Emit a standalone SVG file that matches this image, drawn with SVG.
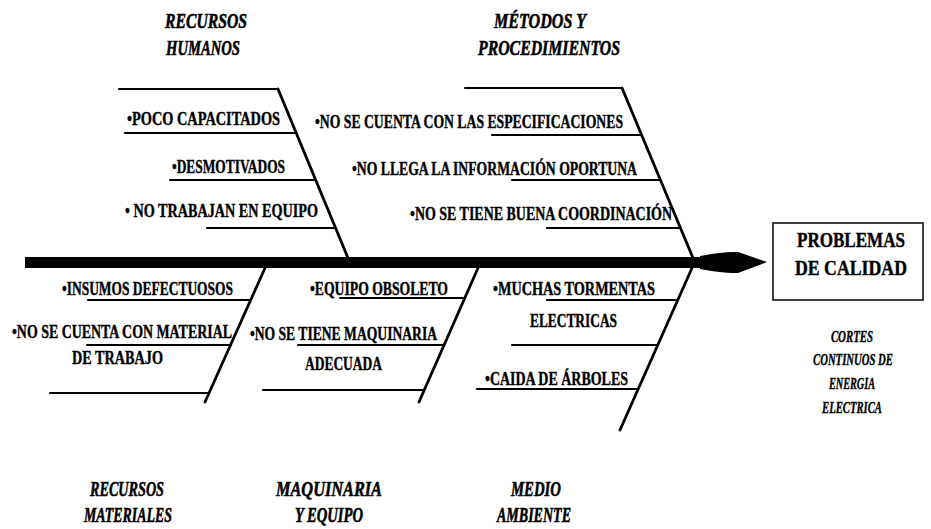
<svg xmlns="http://www.w3.org/2000/svg" width="931" height="529" viewBox="0 0 931 529">
  <style>
    .ln { stroke: #000; stroke-width: 2.2; fill: none; stroke-linecap: round; }
    .dg { stroke: #000; stroke-width: 2.8; fill: none; stroke-linecap: round; }
    .t { font-family: "Liberation Serif", "Times New Roman", serif; font-weight: bold; font-size: 19px; fill: #000; stroke: #000; stroke-width: 0.4; }
    .h { font-family: "Liberation Serif", "Times New Roman", serif; font-weight: bold; font-style: italic; font-size: 22px; fill: #000; stroke: #000; stroke-width: 0.6; }
    .s { font-family: "Liberation Serif", "Times New Roman", serif; font-weight: bold; font-style: italic; font-size: 17px; fill: #000; stroke: #000; stroke-width: 0.4; text-anchor: middle; }
    .b { font-family: "Liberation Serif", "Times New Roman", serif; font-weight: bold; font-size: 20px; fill: #000; stroke: #000; stroke-width: 0.4; }
  </style>
  <rect width="931" height="529" fill="#fff"/>

  <!-- spine, arrow head and the six bones -->
  <g id="connectors">
    <rect x="25" y="257" width="682" height="11" fill="#000"/>
    <path d="M700 256 C712 254 722 252 738 252 L767 262 L738 273 C722 273 712 271 700 269 Z" fill="#000"/>

    <!-- top-left bone -->
    <path class="ln" d="M119 89 L278 89"/>
    <path class="dg" d="M278 89 L348 258"/>
    <path class="ln" d="M125 133 L296 133"/>
    <path class="ln" d="M170 180 L315 180"/>
    <path class="ln" d="M207 228 L335 228"/>

    <!-- top-right bone -->
    <path class="ln" d="M465 88 L622 88"/>
    <path class="dg" d="M622 88 L693 258"/>
    <path class="ln" d="M492 135 L641 135"/>
    <path class="ln" d="M512 180 L660 180"/>
    <path class="ln" d="M547 228 L680 228"/>

    <!-- bottom-left bone -->
    <path class="dg" d="M265 268 L205 402"/>
    <path class="ln" d="M88 300 L251 300"/>
    <path class="ln" d="M87 345 L231 345"/>
    <path class="ln" d="M50 393 L209 393"/>

    <!-- bottom-middle bone -->
    <path class="dg" d="M478 268 L419 402"/>
    <path class="ln" d="M340 298 L465 298"/>
    <path class="ln" d="M298 345 L444 345"/>
    <path class="ln" d="M263 390 L424 390"/>

    <!-- bottom-right bone -->
    <path class="dg" d="M692 268 L620 430"/>
    <path class="ln" d="M547 300 L678 300"/>
    <path class="ln" d="M512 345 L658 345"/>
    <path class="ln" d="M477 389 L638 389"/>
  </g>

  <g id="recursos-humanos">
    <text class="h" x="165" y="28" textLength="82" lengthAdjust="spacingAndGlyphs">RECURSOS</text>
    <text class="h" x="166" y="55" textLength="74" lengthAdjust="spacingAndGlyphs">HUMANOS</text>
    <text class="t" x="127" y="125" textLength="153" lengthAdjust="spacingAndGlyphs">•POCO CAPACITADOS</text>
    <text class="t" x="172" y="173" textLength="113" lengthAdjust="spacingAndGlyphs">•DESMOTIVADOS</text>
    <text class="t" x="125" y="217" textLength="193" lengthAdjust="spacingAndGlyphs">• NO TRABAJAN EN EQUIPO</text>
  </g>

  <g id="metodos">
    <text class="h" x="494" y="28" textLength="92" lengthAdjust="spacingAndGlyphs">MÉTODOS Y</text>
    <text class="h" x="478" y="55" textLength="142" lengthAdjust="spacingAndGlyphs">PROCEDIMIENTOS</text>
    <text class="t" x="315" y="128" textLength="308" lengthAdjust="spacingAndGlyphs">•NO SE CUENTA CON LAS ESPECIFICACIONES</text>
    <text class="t" x="352" y="175" textLength="285" lengthAdjust="spacingAndGlyphs">•NO LLEGA LA INFORMACIÓN OPORTUNA</text>
    <text class="t" x="410" y="220" textLength="262" lengthAdjust="spacingAndGlyphs">•NO SE TIENE BUENA COORDINACIÓN</text>
  </g>

  <g id="recursos-materiales">
    <text class="t" x="62" y="295" textLength="171" lengthAdjust="spacingAndGlyphs">•INSUMOS DEFECTUOSOS</text>
    <text class="t" transform="translate(12 338) scale(0.78 1)" textLength="282" lengthAdjust="spacingAndGlyphs">•NO SE CUENTA CON MATERIAL</text>
    <text class="t" x="72" y="364" textLength="91" lengthAdjust="spacingAndGlyphs">DE TRABAJO</text>
    <text class="h" x="90" y="496" textLength="74" lengthAdjust="spacingAndGlyphs">RECURSOS</text>
    <text class="h" x="84" y="522" textLength="88" lengthAdjust="spacingAndGlyphs">MATERIALES</text>
  </g>

  <g id="maquinaria">
    <text class="t" x="310" y="295" textLength="138" lengthAdjust="spacingAndGlyphs">•EQUIPO OBSOLETO</text>
    <text class="t" x="250" y="340" textLength="187" lengthAdjust="spacingAndGlyphs">•NO SE TIENE MAQUINARIA</text>
    <text class="t" x="305" y="370" textLength="77" lengthAdjust="spacingAndGlyphs">ADECUADA</text>
    <text class="h" x="276" y="496" textLength="106" lengthAdjust="spacingAndGlyphs">MAQUINARIA</text>
    <text class="h" x="295" y="522" textLength="68" lengthAdjust="spacingAndGlyphs">Y EQUIPO</text>
  </g>

  <g id="medio-ambiente">
    <text class="t" x="493" y="295" textLength="162" lengthAdjust="spacingAndGlyphs">•MUCHAS TORMENTAS</text>
    <text class="t" x="530" y="327" textLength="87" lengthAdjust="spacingAndGlyphs">ELECTRICAS</text>
    <text class="t" x="485" y="385" textLength="143" lengthAdjust="spacingAndGlyphs">•CAIDA DE ÁRBOLES</text>
    <text class="h" x="511" y="496" textLength="50" lengthAdjust="spacingAndGlyphs">MEDIO</text>
    <text class="h" x="497" y="522" textLength="74" lengthAdjust="spacingAndGlyphs">AMBIENTE</text>
  </g>

  <g id="efecto">
    <rect x="773" y="223" width="150" height="77" fill="none" stroke="#000" stroke-width="1.5"/>
    <text class="b" x="797" y="247" textLength="108" lengthAdjust="spacingAndGlyphs">PROBLEMAS</text>
    <text class="b" x="795" y="275" textLength="112" lengthAdjust="spacingAndGlyphs">DE CALIDAD</text>
    <!-- condensed italic caption under the effect box -->
    <text class="s" transform="translate(852 342) scale(0.65 1)" textLength="65" lengthAdjust="spacingAndGlyphs">CORTES</text>
    <text class="s" transform="translate(853 365) scale(0.65 1)" textLength="123" lengthAdjust="spacingAndGlyphs">CONTINUOS DE</text>
    <text class="s" transform="translate(852 389) scale(0.65 1)" textLength="71" lengthAdjust="spacingAndGlyphs">ENERGIA</text>
    <text class="s" transform="translate(852 413) scale(0.65 1)" textLength="92" lengthAdjust="spacingAndGlyphs">ELECTRICA</text>
  </g>
</svg>
